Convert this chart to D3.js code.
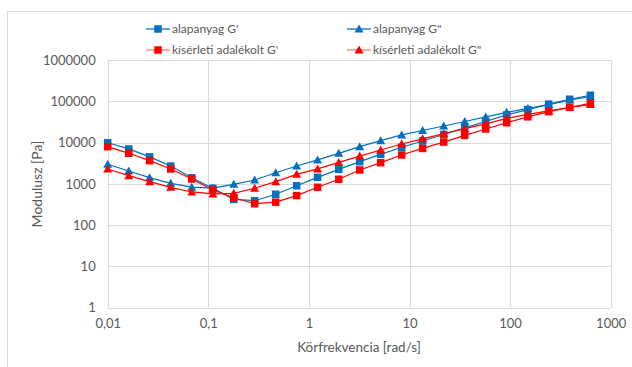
<!DOCTYPE html>
<html>
<head>
<meta charset="utf-8">
<script src="https://cdn.jsdelivr.net/npm/d3@7"></script>
<style>
  html, body { margin: 0; padding: 0; background: #fff; }
  svg { display: block; font-family: Lato, "Open Sans", sans-serif; }
</style>
</head>
<body>
<svg id="chart" width="632" height="367"></svg>
<script>
// Angular frequency [rad/s]
const omega = [0.01, 0.0162, 0.0261, 0.0423, 0.0684, 0.111, 0.179, 0.289, 0.468, 0.756,
               1.22, 1.98, 3.2, 5.17, 8.36, 13.5, 21.9, 35.4, 57.2, 92.5, 150, 242, 391, 628];

// Storage / loss modulus [Pa]
const alapGp  = [9900, 7000, 4500, 2700, 1400, 780, 420, 390, 560, 900, 1440, 2250, 3440, 5200,
                 7700, 10900, 15700, 22600, 32400, 46600, 63000, 85000, 112000, 140000];
const alapGpp = [2980, 2050, 1410, 1030, 830, 790, 975, 1240, 1860, 2710, 3790, 5500, 7940, 11100,
                 15300, 19600, 25200, 32400, 41700, 54100, 67000, 83500, 107000, 131000];
const kisGp   = [7950, 5500, 3640, 2290, 1310, 710, 460, 330, 360, 520, 826, 1290, 2170, 3260,
                 5000, 7200, 10300, 14900, 21300, 30300, 42000, 56000, 71600, 89400];
const kisGpp  = [2290, 1580, 1130, 826, 635, 568, 590, 782, 1130, 1700, 2300, 3300, 4700, 6600,
                 9240, 12300, 16400, 21700, 28500, 38700, 47900, 58200, 70700, 83600];

const seriesNames = ["alapanyag G'", "alapanyag G\"", "kísérleti adalékolt G'", "kísérleti adalékolt G\""];
const xTicks = [0.01, 0.1, 1, 10, 100, 1000];
const xTickLabels = ["0,01", "0,1", "1", "10", "100", "1000"];
const yTicks = [1, 10, 100, 1000, 10000, 100000, 1000000];
const yTickLabels = ["1", "10", "100", "1000", "10000", "100000", "1000000"];

const series = [
  { name: seriesNames[0], values: alapGp,  color: "#0070C0", marker: "square" },
  { name: seriesNames[1], values: alapGpp, color: "#0070C0", marker: "triangle" },
  { name: seriesNames[2], values: kisGp,   color: "#FF0000", marker: "square" },
  { name: seriesNames[3], values: kisGpp,  color: "#FF0000", marker: "triangle" }
];

const svg = d3.select("#chart");
const grid = "#d9d9d9", textCol = "#595959";

// chart area frame
svg.append("rect").attr("x", 7.5).attr("y", 11.5).attr("width", 640).attr("height", 370)
  .attr("fill", "#fff").attr("stroke", grid).attr("stroke-width", 1);

const x = d3.scaleLog().domain([0.01, 1000]).range([107.7, 610.7]);
const y = d3.scaleLog().domain([1, 1000000]).range([307.7, 60]);

// grid
const g = svg.append("g");
g.selectAll("line.v").data(xTicks).join("line")
  .attr("x1", d => Math.round(x(d)) + 0.5).attr("x2", d => Math.round(x(d)) + 0.5)
  .attr("y1", y(1000000)).attr("y2", y(1))
  .attr("stroke", grid).attr("stroke-width", 1);
g.selectAll("line.h").data(yTicks).join("line")
  .attr("y1", d => Math.round(y(d)) + 0.5).attr("y2", d => Math.round(y(d)) + 0.5)
  .attr("x1", x(0.01)).attr("x2", x(1000))
  .attr("stroke", grid).attr("stroke-width", 1);

// axes (tick labels only)
const xAxis = d3.axisBottom(x).tickValues(xTicks).tickFormat((d, i) => xTickLabels[i]).tickSize(0).tickPadding(11);
const yAxis = d3.axisLeft(y).tickValues(yTicks).tickFormat((d, i) => yTickLabels[i]).tickSize(0).tickPadding(12);
const gx = svg.append("g").attr("transform", `translate(0,${y(1)})`).call(xAxis);
const gy = svg.append("g").attr("transform", `translate(${x(0.01)},0)`).call(yAxis);
[gx, gy].forEach(a => {
  a.select(".domain").remove();
  a.selectAll("text").attr("fill", textCol).style("font-size", "13px").style("font-family", "Lato, sans-serif");
});

// axis titles
svg.append("text").attr("x", 359).attr("y", 352).attr("text-anchor", "middle")
  .attr("fill", textCol).style("font-size", "13.5px").text("Körfrekvencia [rad/s]");
svg.append("text").attr("transform", "translate(42,184) rotate(-90)").attr("text-anchor", "middle")
  .attr("fill", textCol).style("font-size", "14px").text("Modulusz [Pa]");

function drawMarker(sel, type, color, cx, cy) {
  if (type === "square") {
    sel.append("rect").attr("x", cx - 3.75).attr("y", cy - 3.75).attr("width", 7.5).attr("height", 7.5)
      .attr("fill", color);
  } else {
    sel.append("path").attr("d", `M${cx},${cy - 4.5}L${cx + 4.5},${cy + 3.5}L${cx - 4.5},${cy + 3.5}Z`)
      .attr("fill", color);
  }
}

// series
const line = d3.line().x(d => x(d[0])).y(d => y(d[1]));
series.forEach(s => {
  const pts = omega.map((w, i) => [w, s.values[i]]);
  const sg = svg.append("g");
  sg.append("path").attr("d", line(pts)).attr("fill", "none")
    .attr("stroke", s.color).attr("stroke-width", 1.25);
  pts.forEach(p => drawMarker(sg, s.marker, s.color, x(p[0]), y(p[1])));
});

// legend
const legendPos = [[146, 29], [347, 29], [146, 50], [347, 50]];
series.forEach((s, i) => {
  const [lx, ly] = legendPos[i];
  const lg = svg.append("g");
  lg.append("line").attr("x1", lx).attr("x2", lx + 24).attr("y1", ly).attr("y2", ly)
    .attr("stroke", s.color).attr("stroke-width", 1.25).attr("stroke-opacity", s.color === "#FF0000" ? 0.55 : 1);
  drawMarker(lg, s.marker, s.color, lx + 12, ly);
  lg.append("text").attr("x", lx + 26).attr("y", ly).attr("dy", "0.35em")
    .attr("fill", textCol).style("font-size", "12px").text(s.name);
});
</script>
</body>
</html>
